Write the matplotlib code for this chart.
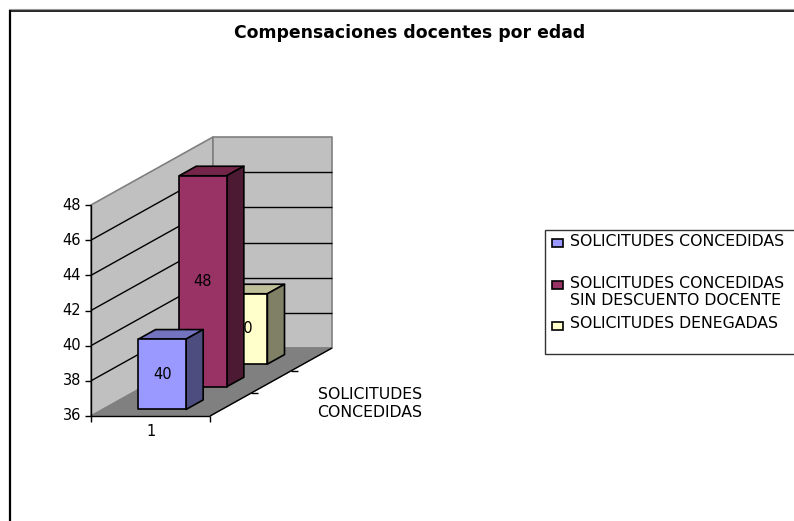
#!/usr/bin/env python3
"""Excel-style 3D column chart, drawn with a small oblique projection."""

import matplotlib
matplotlib.use("Agg")
import matplotlib.pyplot as plt
from matplotlib.patches import Polygon, Rectangle

plt.rcParams["font.family"] = ["DejaVu Sans"]

TITLE = "Compensaciones docentes por edad"
SERIES = ["SOLICITUDES CONCEDIDAS",
          "SOLICITUDES CONCEDIDAS\nSIN DESCUENTO DOCENTE",
          "SOLICITUDES DENEGADAS"]
VALUES = [40, 48, 40]
COLORS = ["#9999FF", "#993366", "#FFFFCC"]
SIDE_COLORS = ["#4D4D80", "#4D1A33", "#808066"]
TOP_COLORS = ["#7373BF", "#732649", "#BFBF99"]
Y_TICKS = [36, 38, 40, 42, 44, 46, 48]
X_LABEL = "1"
DEPTH_LABEL = "SOLICITUDES\nCONCEDIDAS"

# projection, in pixels
X0, Y0 = 91, 416
WIDTH = 119
DEPTH_DX, DEPTH_DY = 122, -68
UNIT = 211 / (Y_TICKS[-1] - Y_TICKS[0])
GRAY = "#808080"
FS = 11.3


def project(x, depth, value):
    """x in 0..1 along the category, depth in 0..1 front to back."""
    px = X0 + x * WIDTH + depth * DEPTH_DX
    py = Y0 + depth * DEPTH_DY - (value - Y_TICKS[0]) * UNIT
    return px, py


def face(ax, corners, color, edge="black", lw=1.2, z=2):
    pts = [project(*c) for c in corners]
    ax.add_patch(Polygon(pts, closed=True, facecolor=color, edgecolor=edge,
                         linewidth=lw, zorder=z, joinstyle="round"))


def line(ax, p, q, color="black", lw=1.0, z=1.5):
    ax.plot([p[0], q[0]], [p[1], q[1]], color=color, lw=lw, zorder=z,
            solid_capstyle="butt")


fig = plt.figure(figsize=(7.94, 5.21), dpi=100)
ax = fig.add_axes([0, 0, 1, 1])
ax.set_xlim(0, 794)
ax.set_ylim(521, 0)
ax.axis("off")

# chart frame
ax.plot([10, 10], [521, 10], color="black", lw=1.6, zorder=5, solid_capstyle="butt")
ax.plot([10, 794], [10.5, 10.5], color="black", lw=1.2, zorder=5, solid_capstyle="butt")
ax.plot([9, 794], [9, 9], color="#999999", lw=0.8, zorder=5)

ax.text(410, 32.5, TITLE, ha="center", va="center", fontsize=12.4, fontweight="bold")

# walls and floor
lo, hi = Y_TICKS[0], Y_TICKS[-1]
face(ax, [(0, 0, lo), (0, 1, lo), (0, 1, hi), (0, 0, hi)], "#C0C0C0", GRAY, 1.2, 1)
face(ax, [(0, 1, lo), (1, 1, lo), (1, 1, hi), (0, 1, hi)], "#C0C0C0", GRAY, 1.2, 1)
face(ax, [(0, 0, lo), (1, 0, lo), (1, 1, lo), (0, 1, lo)], GRAY, GRAY, 1.0, 1.2)

# gridlines and value axis
for v in Y_TICKS[1:-1]:
    line(ax, project(0, 0, v), project(0, 1, v))
    line(ax, project(0, 1, v), project(1, 1, v))
for v in Y_TICKS:
    p = project(0, 0, v)
    line(ax, (p[0] - 6, p[1]), p, z=3)
    ax.text(p[0] - 10, p[1], str(v), ha="right", va="center", fontsize=10.5)
line(ax, project(0, 0, lo), project(0, 0, hi), z=3)

# category axis
line(ax, project(0, 0, lo), project(1, 0, lo), z=3)
line(ax, project(1, 0, lo), project(1, 1, lo), z=3)
for x in (0, 1):
    p = project(x, 0, lo)
    line(ax, p, (p[0], p[1] + 6), z=3)
ax.text(151, 432, X_LABEL, ha="center", va="center", fontsize=10.5)

# depth axis
n = len(SERIES)
for i in range(1, n):
    p = project(1, i / n, lo)
    line(ax, p, (p[0] + 7, p[1]), z=1.6)
ax.text(370, 403.5, DEPTH_LABEL, ha="center", va="center", fontsize=FS, linespacing=1.3)

# bars, back to front
for i in reversed(range(n)):
    d0, d1 = (i + 0.29) / n, (i + 0.71) / n
    x0, x1 = 0.30, 0.70
    v = VALUES[i]
    z = 2 + (n - i)
    face(ax, [(x0, d0, v), (x1, d0, v), (x1, d1, v), (x0, d1, v)], TOP_COLORS[i], z=z)
    face(ax, [(x1, d0, lo), (x1, d1, lo), (x1, d1, v), (x1, d0, v)], SIDE_COLORS[i], z=z)
    face(ax, [(x0, d0, lo), (x1, d0, lo), (x1, d0, v), (x0, d0, v)], COLORS[i], z=z)
    cx, cy = project(0.5, d0, (v + lo) / 2)
    ax.text(cx, cy, str(v), ha="center", va="center", fontsize=10.5, zorder=z + 0.1)

# legend
ax.add_patch(Rectangle((545, 230), 260, 124, facecolor="white", edgecolor="#333333",
                       linewidth=1.0, zorder=2))
for name, color, y_box, y_text in zip(SERIES, COLORS, (243, 285, 325.5), (242, 292, 324)):
    ax.add_patch(Rectangle((552, y_box - 4), 10.5, 8, facecolor=color, edgecolor="black",
                           linewidth=1.2, zorder=3))
    ax.text(570, y_text, name, ha="left", va="center", fontsize=FS, zorder=3, linespacing=1.15)

fig.savefig("out.png", dpi=100)
plt.close(fig)
